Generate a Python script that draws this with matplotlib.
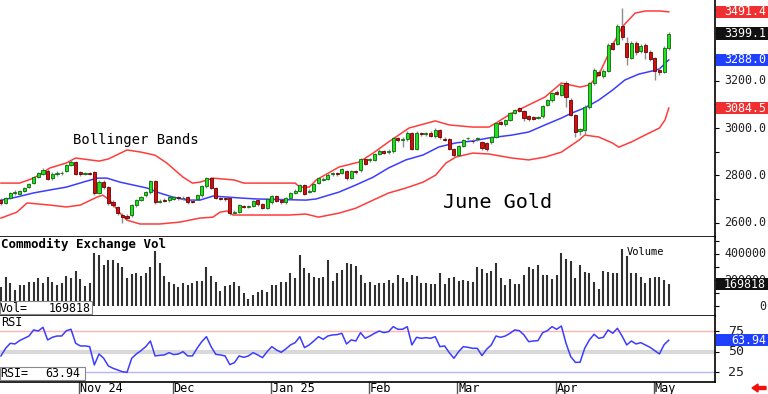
import numpy as np
import matplotlib
matplotlib.use('Agg')
import matplotlib.pyplot as plt
from matplotlib.patches import Rectangle, FancyArrow
from matplotlib.transforms import blended_transform_factory

# daily June gold futures, Oct 2024 - May 2025
opens = [2695, 2683, 2704, 2725, 2721, 2733, 2750, 2767, 2793, 2805,
         2818, 2788, 2805, 2808, 2818, 2843, 2856, 2814, 2805, 2810,
         2814, 2725, 2771, 2750, 2687, 2666, 2632, 2628, 2632, 2674,
         2695, 2716, 2729, 2776, 2689, 2695, 2695, 2700, 2708, 2702,
         2708, 2691, 2700, 2716, 2755, 2788, 2746, 2704, 2702, 2704,
         2642, 2645, 2670, 2668, 2670, 2695, 2678, 2662, 2687, 2712,
         2695, 2687, 2704, 2725, 2733, 2759, 2729, 2733, 2767, 2780,
         2784, 2805, 2810, 2810, 2818, 2788, 2818, 2822, 2869, 2863,
         2865, 2890, 2903, 2898, 2903, 2958, 2951, 2953, 2979, 2911,
         2976, 2975, 2979, 2966, 2992, 2953, 2953, 2911, 2886, 2924,
         2956, 2947, 2953, 2941, 2937, 2941, 2962, 3025, 3017, 3034,
         3063, 3085, 3072, 3051, 3046, 3042, 3051, 3097, 3118, 3152,
         3140, 3190, 3118, 3055, 2989, 2992, 3089, 3190, 3237, 3220,
         3241, 3360, 3355, 3431, 3360, 3296, 3360, 3326, 3351, 3321,
         3296, 3245, 3237, 3338]
closes = [2683, 2704, 2725, 2729, 2733, 2746, 2763, 2793, 2810, 2822,
          2784, 2805, 2810, 2811, 2843, 2856, 2805, 2805, 2810, 2807,
          2725, 2771, 2750, 2683, 2674, 2640, 2623, 2619, 2674, 2695,
          2708, 2729, 2776, 2687, 2691, 2693, 2708, 2708, 2702, 2706,
          2687, 2689, 2716, 2755, 2788, 2746, 2704, 2701, 2698, 2640,
          2645, 2674, 2668, 2670, 2691, 2678, 2662, 2700, 2712, 2691,
          2687, 2704, 2725, 2733, 2759, 2721, 2733, 2763, 2788, 2786,
          2801, 2810, 2805, 2826, 2788, 2818, 2814, 2869, 2848, 2867,
          2890, 2903, 2894, 2903, 2958, 2949, 2955, 2979, 2911, 2979,
          2975, 2977, 2966, 2992, 2962, 2951, 2911, 2886, 2924, 2949,
          2958, 2945, 2958, 2915, 2911, 2962, 3021, 3019, 3034, 3063,
          3076, 3072, 3042, 3038, 3038, 3046, 3093, 3118, 3148, 3144,
          3182, 3131, 3055, 2983, 2994, 3089, 3190, 3245, 3224, 3241,
          3351, 3334, 3431, 3385, 3300, 3360, 3321, 3347, 3321, 3292,
          3241, 3237, 3338, 3399.1]
highs = [2702, 2710, 2731, 2736, 2739, 2752, 2768, 2798, 2816, 2830,
         2826, 2812, 2818, 2818, 2848, 2864, 2860, 2820, 2816, 2816,
         2820, 2778, 2778, 2755, 2694, 2672, 2640, 2636, 2680, 2700,
         2714, 2735, 2782, 2780, 2698, 2702, 2714, 2714, 2714, 2712,
         2714, 2698, 2722, 2760, 2794, 2792, 2750, 2710, 2708, 2708,
         2652, 2680, 2676, 2676, 2697, 2700, 2684, 2706, 2718, 2716,
         2700, 2710, 2730, 2740, 2764, 2764, 2740, 2768, 2794, 2792,
         2808, 2816, 2816, 2832, 2824, 2824, 2824, 2874, 2874, 2874,
         2896, 2910, 2908, 2910, 2964, 2964, 2962, 2986, 2984, 2986,
         2984, 2984, 2986, 2998, 2996, 2960, 2958, 2916, 2930, 2955,
         2964, 2954, 2964, 2946, 2942, 2968, 3027, 3030, 3040, 3068,
         3082, 3090, 3076, 3056, 3052, 3052, 3098, 3124, 3154, 3160,
         3188, 3200, 3125, 3060, 3000, 3096, 3196, 3252, 3244, 3248,
         3358, 3366, 3440, 3509, 3386, 3368, 3368, 3354, 3360, 3328,
         3302, 3252, 3345, 3406]
lows = [2676, 2678, 2699, 2718, 2715, 2728, 2745, 2762, 2788, 2800,
        2778, 2782, 2798, 2800, 2812, 2838, 2800, 2798, 2800, 2800,
        2718, 2720, 2744, 2676, 2668, 2634, 2600, 2610, 2625, 2668,
        2690, 2710, 2722, 2680, 2682, 2686, 2688, 2694, 2696, 2696,
        2680, 2682, 2694, 2710, 2748, 2740, 2698, 2694, 2692, 2634,
        2636, 2640, 2660, 2662, 2664, 2672, 2656, 2656, 2680, 2686,
        2680, 2680, 2700, 2720, 2728, 2716, 2724, 2728, 2762, 2774,
        2778, 2798, 2798, 2804, 2782, 2784, 2806, 2816, 2842, 2856,
        2860, 2884, 2888, 2892, 2896, 2942, 2920, 2946, 2906, 2906,
        2966, 2966, 2960, 2958, 2955, 2944, 2905, 2878, 2880, 2918,
        2948, 2938, 2946, 2908, 2904, 2934, 2956, 3012, 3010, 3028,
        3058, 3066, 3030, 3030, 3032, 3036, 3044, 3092, 3112, 3138,
        3134, 3090, 3050, 2960, 2970, 2972, 3080, 3184, 3218, 3212,
        3236, 3328, 3350, 3372, 3268, 3290, 3310, 3316, 3290, 3284,
        3205, 3225, 3232, 3330]
volume = [151, 227, 182, 126, 164, 164, 189, 189, 215, 182,
          227, 189, 164, 177, 232, 215, 273, 207, 156, 177,
          405, 392, 316, 354, 354, 334, 303, 215, 248, 253,
          232, 253, 298, 425, 329, 232, 189, 171, 146, 182,
          164, 177, 197, 197, 298, 232, 189, 121, 156, 164,
          189, 156, 105, 55, 88, 113, 126, 113, 164, 164,
          189, 189, 258, 215, 392, 291, 258, 227, 220, 222,
          354, 197, 253, 278, 329, 324, 309, 240, 177, 189,
          164, 182, 182, 202, 177, 240, 215, 189, 240, 232,
          177, 182, 171, 171, 253, 171, 215, 222, 197, 202,
          197, 189, 303, 283, 253, 273, 329, 215, 164, 207,
          171, 171, 240, 298, 283, 316, 240, 240, 207, 240,
          410, 359, 349, 215, 316, 265, 258, 189, 131, 273,
          265, 253, 258, 438, 385, 253, 253, 222, 177, 215,
          227, 227, 202, 169.818]
rsi = [44.8, 54.1, 60.2, 59.4, 63.5, 66.3, 69.1, 76.5, 75.2, 79.7,
       64.3, 67.5, 69.1, 69.1, 75.6, 77.3, 60.2, 57.0, 57.0, 56.1,
       33.8, 47.2, 41.9, 32.6, 29.7, 27.7, 25.6, 24.8, 41.9, 47.2,
       51.3, 56.1, 63.0, 44.8, 45.6, 46.0, 48.8, 46.4, 47.2, 50.0,
       44.8, 44.8, 54.1, 62.2, 68.3, 56.1, 46.8, 46.0, 44.8, 34.2,
       36.6, 44.8, 43.1, 44.8, 48.8, 46.0, 42.7, 50.0, 56.1, 52.1,
       49.2, 53.3, 58.2, 61.0, 68.3, 54.9, 58.2, 63.0, 68.3, 65.1,
       69.1, 70.4, 70.8, 72.4, 59.4, 64.3, 63.0, 73.2, 66.3, 69.1,
       72.4, 75.2, 73.2, 74.4, 80.5, 77.3, 77.3, 80.5, 58.2, 67.5,
       66.3, 67.1, 66.3, 68.3, 56.1, 57.0, 48.8, 41.9, 50.0, 56.1,
       55.3, 54.1, 54.1, 45.2, 52.9, 58.2, 69.1, 67.5, 69.1, 72.4,
       76.5, 75.6, 70.4, 62.2, 63.0, 63.5, 73.2, 75.6, 80.5, 77.3,
       81.3, 60.2, 44.0, 37.0, 37.0, 54.1, 64.3, 71.2, 66.3, 67.5,
       76.5, 72.4, 78.5, 69.1, 58.2, 63.0, 59.4, 61.0, 58.2, 55.3,
       51.3, 47.2, 58.5, 63.94]

# Bollinger bands, sampled along the drawn lines (bar index, price)
upper_idx = [0, 4, 7, 10.5, 14, 16, 21, 23, 27, 30, 33, 35.5, 39, 41, 42.6, 45.4,
             50, 52, 63, 64, 66, 67.5, 72.4, 76.7, 79.7, 83, 87.4, 93, 96, 101,
             104.5, 106, 109.4, 116.5, 120, 124, 126, 128, 131, 133, 135.8, 138,
             141, 143]
upper_val = [2767, 2767, 2788, 2831, 2852, 2873, 2860, 2869, 2907, 2898, 2885, 2852,
             2792, 2767, 2771, 2788, 2780, 2767, 2767, 2750, 2750, 2780, 2835, 2856,
             2894, 2941, 3000, 3030, 3013, 3004, 3004, 3021, 3063, 3131, 3190, 3173,
             3182, 3224, 3351, 3427, 3486, 3495, 3495, 3491.4]
mid_idx = [0, 3.4, 6.9, 10.5, 14, 17.6, 20.6, 22.7, 25.5, 28.3, 31.3, 34, 36.8,
           39.8, 42.6, 45.4, 48.4, 51.2, 54.6, 65.3, 67.5, 72.4, 76, 79.7, 83,
           86.7, 90.4, 93.8, 97.4, 101, 104.5, 109.4, 113, 116.5, 120, 122.2, 125,
           128, 131, 133.6, 136.6, 139.4, 141, 143]
mid_val = [2695, 2708, 2725, 2738, 2750, 2771, 2788, 2788, 2771, 2759, 2746, 2725,
           2708, 2695, 2695, 2712, 2708, 2704, 2700, 2695, 2700, 2729, 2759, 2792,
           2831, 2865, 2886, 2920, 2937, 2945, 2958, 2970, 2983, 3013, 3042, 3063,
           3085, 3118, 3161, 3203, 3228, 3241, 3250, 3288.0]
lower_idx = [0, 3.4, 5.6, 10.5, 14, 17, 20.6, 21.8, 23.3, 25.5, 27, 29.8, 34, 38.3,
             42.6, 45.4, 46.9, 48.4, 49.7, 54.6, 61.7, 65.3, 68, 72.4, 76, 79.7,
             83, 86.7, 90.4, 93.1, 95.3, 97.4, 101, 104.5, 109.4, 113, 116.5, 120,
             123.8, 125, 128, 131, 132.3, 135, 137.9, 141, 142.2, 143]
lower_val = [2619, 2644, 2683, 2674, 2666, 2674, 2708, 2716, 2695, 2640, 2610, 2594,
             2594, 2602, 2619, 2623, 2644, 2649, 2632, 2632, 2632, 2636, 2623, 2640,
             2661, 2695, 2725, 2746, 2771, 2801, 2852, 2877, 2894, 2890, 2873, 2865,
             2877, 2898, 2949, 2970, 2962, 2936, 2919, 2941, 2970, 3000, 3034, 3084.5]

months = ['Nov 24', 'Dec', 'Jan 25', 'Feb', 'Mar', 'Apr', 'May']
month_idx = [17, 37, 58, 79, 98, 119, 140]

plt.rcParams['font.family'] = 'DejaVu Sans Mono'

W, H = 768, 394
fig = plt.figure(figsize=(W / 100, H / 100), dpi=100)


def px_axes(x0, y0, x1, y1):
    return fig.add_axes([x0 / W, 1 - y1 / H, (x1 - x0) / W, (y1 - y0) / H])


ax_p = px_axes(0, 0, 715, 237)
ax_v = px_axes(0, 237, 715, 316)
ax_r = px_axes(0, 316, 715, 382)

n = len(closes)
idx = np.arange(n)
o, c, hi, lo = map(np.array, (opens, closes, highs, lows))

for ax in (ax_p, ax_v, ax_r):
    ax.set_xlim(-0.2, 152.9)
    for s in ('top', 'left'):
        ax.spines[s].set_visible(False)
    ax.spines['right'].set_linewidth(1.2)
    ax.spines['bottom'].set_linewidth(1.2)
    ax.set_xticks([])
    ax.yaxis.tick_right()
    ax.tick_params(axis='y', which='both', direction='out', length=3,
                   labelright=False, width=0.8)
    ax.set_facecolor('white')

# ---- price panel
ax_p.set_ylim(2539, 3541.4)
ax_p.set_yticks([2600, 2800, 3000, 3200, 3400])
ax_p.set_yticks(np.arange(2600, 3600, 100), minor=True)

ax_p.vlines(idx, lo, hi, color='#8c8c8c', lw=1, zorder=2)
up = c >= o
bot = np.minimum(o, c)
hgt = np.maximum(np.abs(c - o), 2.0)
ax_p.bar(idx[up], hgt[up], bottom=bot[up], width=0.66, color='#20e020',
         edgecolor='#0a6a0a', lw=0.6, zorder=3)
ax_p.bar(idx[~up], hgt[~up], bottom=bot[~up], width=0.66, color='#d01010',
         edgecolor='#6a0000', lw=0.6, zorder=3)

ax_p.plot(upper_idx, upper_val, color='#ff3c3c', lw=1.1, zorder=1)
ax_p.plot(lower_idx, lower_val, color='#ff3c3c', lw=1.1, zorder=1)
ax_p.plot(mid_idx, mid_val, color='#3c3cff', lw=1.1, zorder=1)

ax_p.text(73 / 715, 1 - 140 / 237, 'Bollinger Bands', transform=ax_p.transAxes,
          fontsize=10, va='center', ha='left')
ax_p.text(443 / 715, 1 - 203 / 237, 'June Gold', transform=ax_p.transAxes,
          fontsize=14.5, va='center', ha='left')

# ---- volume panel
ax_v.set_ylim(-72400, 529500)
ax_v.set_yticks([0, 200000, 400000])
ax_v.set_yticks(np.arange(0, 500001, 100000), minor=True)
ax_v.vlines(idx, 0, np.array(volume) * 1000, color='#303030', lw=1.5)
ax_v.text(0.001, (316 - 244) / 79, 'Commodity Exchange Vol', transform=ax_v.transAxes,
          fontsize=9, fontweight='bold', va='center')
ax_v.text(627 / 715, (316 - 252) / 79, 'Volume', transform=ax_v.transAxes,
          fontsize=7.5, va='center')
ax_v.add_patch(Rectangle((0, (316 - 314) / 79), 92 / 715, 13 / 79,
                         transform=ax_v.transAxes, facecolor='white',
                         edgecolor='#888888', lw=0.8, zorder=6))
ax_v.text(0.0, (316 - 308) / 79, 'Vol=', transform=ax_v.transAxes, fontsize=8.4,
          va='center', zorder=7)
ax_v.text(91 / 715, (316 - 308) / 79, f'{volume[-1] * 1000:.0f}',
          transform=ax_v.transAxes, fontsize=8.4, va='center', ha='right', zorder=7)

# ---- RSI panel
ax_r.set_ylim(13.0, 93.5)
ax_r.set_yticks([25, 50, 75])
ax_r.axhline(75, color='#ffb4b4', lw=1)
ax_r.axhline(50, color='#d9d9d9', lw=3)
ax_r.axhline(25, color='#b4b4ff', lw=1)
ax_r.plot(idx, rsi, color='#3c3cff', lw=1.1)
ax_r.text(0.001, (382 - 323) / 66, 'RSI', transform=ax_r.transAxes,
          fontsize=8.6, va='center')
ax_r.add_patch(Rectangle((0, (382 - 380) / 66), 85 / 715, 13 / 66,
                         transform=ax_r.transAxes, facecolor='white',
                         edgecolor='#888888', lw=0.8, zorder=6))
ax_r.text(0.0, (382 - 373.5) / 66, 'RSI=', transform=ax_r.transAxes, fontsize=8.4,
          va='center', zorder=7)
ax_r.text(80 / 715, (382 - 373.5) / 66, f'{rsi[-1]:.2f}', transform=ax_r.transAxes,
          fontsize=8.4, va='center', ha='right', zorder=7)

# month labels under the RSI panel
tb = blended_transform_factory(ax_r.transData, ax_r.transAxes)
for m, i in zip(months, month_idx):
    ax_r.plot([i - 0.25, i - 0.25], [0, -12 / 66], transform=tb, color='#555555',
              lw=1, clip_on=False)
    ax_r.text(i - 0.05, -6.5 / 66, m, transform=tb, fontsize=8.6, va='center',
              ha='left', clip_on=False)

# ---- right-hand value labels
XR = 766 / 715
XE = 768 / 715


def rlabel(ax, val, s):
    tr = blended_transform_factory(ax.transAxes, ax.transData)
    ax.text(XR, val, s, transform=tr, ha='right', va='center', fontsize=8.4,
            color='#222222', clip_on=False, zorder=4)


def tag(ax, val, s, bg):
    y0, y1 = ax.get_ylim()
    hpx = ax.get_position().height * H
    half = 6.2 * (y1 - y0) / hpx
    tr = blended_transform_factory(ax.transAxes, ax.transData)
    ax.add_patch(Rectangle((1.0 + 1 / 715, val - half), XE - 1.0, 2 * half,
                           transform=tr, facecolor=bg, edgecolor='none',
                           clip_on=False, zorder=8))
    ax.text(XR, val, s, transform=tr, ha='right', va='center', fontsize=8.4,
            color='white', clip_on=False, zorder=9)


for v in [2600, 2800, 3000, 3200, 3400]:
    rlabel(ax_p, v, f'{v:.1f}')
tag(ax_p, upper_val[-1], f'{upper_val[-1]:.1f}', '#f03030')
tag(ax_p, closes[-1], f'{closes[-1]:.1f}', '#111111')
tag(ax_p, mid_val[-1], f'{mid_val[-1]:.1f}', '#2040ff')
tag(ax_p, lower_val[-1], f'{lower_val[-1]:.1f}', '#f03030')

for v in [0, 200000, 400000]:
    rlabel(ax_v, v, f'{v}')
tag(ax_v, volume[-1] * 1000, f'{volume[-1] * 1000:.0f}', '#111111')

for v in [25, 50, 75]:
    tr = blended_transform_factory(ax_r.transAxes, ax_r.transData)
    ax_r.text(744 / 715, v, str(v), transform=tr, ha='right', va='center',
              fontsize=9.5, color='#222222', clip_on=False)
tag(ax_r, rsi[-1], f'{rsi[-1]:.2f}', '#2040ff')

# small red arrow in the corner
fig.add_artist(FancyArrow(766 / W, 1 - 388 / H, -8 / W, 0, width=3 / H,
                          head_width=8 / H, head_length=6 / W,
                          length_includes_head=False, color='#ee1111',
                          transform=fig.transFigure))

fig.savefig('out.png', dpi=100)
